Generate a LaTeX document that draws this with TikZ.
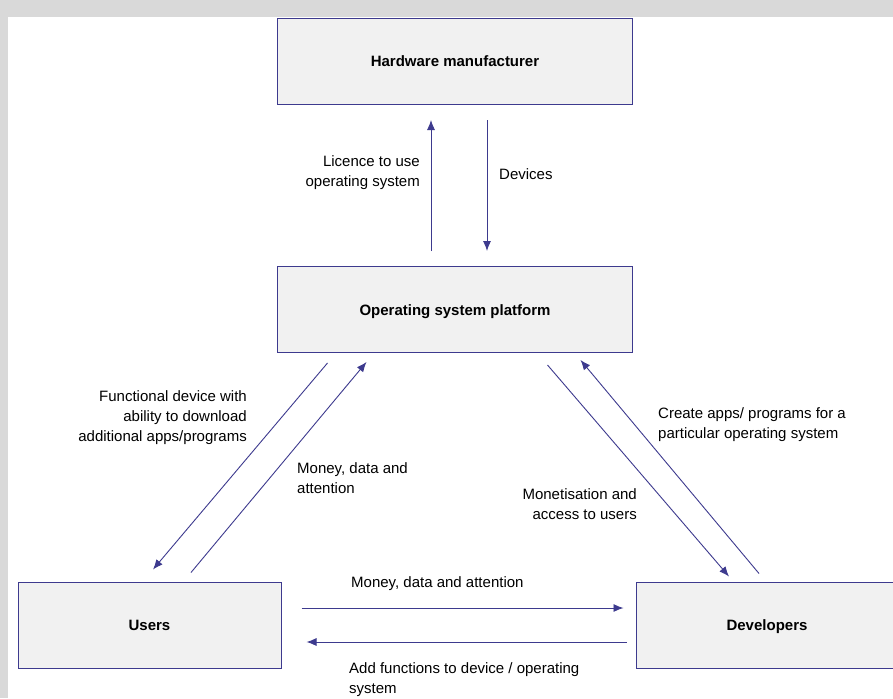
\documentclass[tikz,border=0pt]{standalone}
\usepackage{fontspec}
\setmainfont{Liberation Sans}
\usepackage{xcolor}
\usetikzlibrary{positioning, arrows.meta, calc}
\definecolor{flowblue}{RGB}{61, 58, 142}
\definecolor{boxfill}{RGB}{241, 241, 241}
\definecolor{framegray}{RGB}{217, 217, 217}

\begin{document}
\begin{tikzpicture}[x=1pt, y=-1pt, >={Latex[length=10pt,width=8pt]}]
    \tikzstyle{party} = [rectangle, draw=flowblue, line width=1pt, fill=boxfill, minimum width=355pt, minimum height=86pt, font=\fontsize{15}{20}\selectfont\bfseries, text height=11pt, text depth=0pt, inner sep=0pt]
    \tikzstyle{flow} = [->, line width=0.9pt, color=flowblue]
    \tikzstyle{note} = [font=\fontsize{15}{20}\selectfont, inner sep=0pt]

    % frame
    \clip (0,0) rectangle (893,698);
    \fill[framegray] (0,0) rectangle (893,698);
    \fill[white] (8,17) rectangle (893,698);

    \node[party] (hw) at (455,61.5) {Hardware manufacturer};
    \node[party, below=161pt of hw] (osp) {Operating system platform};
    \node[party, minimum width=263pt] (users) at (149.5,625) {Users};
    \node[party, minimum width=262pt, right=354pt of users] (dev) {Developers};

    % platform <-> hardware
    \draw[flow] ($(osp.north)+(-24,-15)$) -- ($(hw.south)+(-24,15)$);
    \draw[flow] ($(hw.south)+(32,15)$) -- ($(osp.north)+(32,-15)$);
    \node[note, anchor=east, align=right] (licence) at (420,173) {Licence to use\\operating system};
    \node[note, anchor=west] (devices) at (499,174) {Devices};

    % platform <-> users
    \draw[flow] ($(osp.south west)+(50.5,10)$) -- ($(users.north)+(3.5,-12)$);
    \draw[flow] ($(users.north)+(41.5,-9)$) -- ($(osp.south west)+(89.5,9)$);
    \node[note, anchor=east, align=right] (functional) at (247,418) {Functional device with\\ability to download\\additional apps/programs};
    \node[note, anchor=west, align=left] (paysos) at (297,478) {Money, data and\\attention};

    % platform <-> developers
    \draw[flow] ($(osp.south east)+(-85.5,12)$) -- ($(dev.north)+(-38,-5)$);
    \draw[flow] ($(dev.north)+(-8,-8)$) -- ($(osp.south east)+(-52.5,7)$);
    \node[note, anchor=west, align=left] (create) at (658,425) {Create apps/ programs for a\\particular operating system};
    \node[note, anchor=east, align=right] (monetise) at (637,504) {Monetisation and\\access to users};

    % users <-> developers
    \draw[flow] ($(users.east)+(20,-17)$) -- ($(dev.west)+(-12,-17)$);
    \draw[flow] ($(dev.west)+(-9,17)$) -- ($(users.east)+(25,17)$);
    \node[note, anchor=west] (paysdev) at (351,584) {Money, data and attention};
    \node[note, anchor=west, align=left] (addfn) at (349,680) {Add functions to device / operating\\system};
\end{tikzpicture}
\end{document}
